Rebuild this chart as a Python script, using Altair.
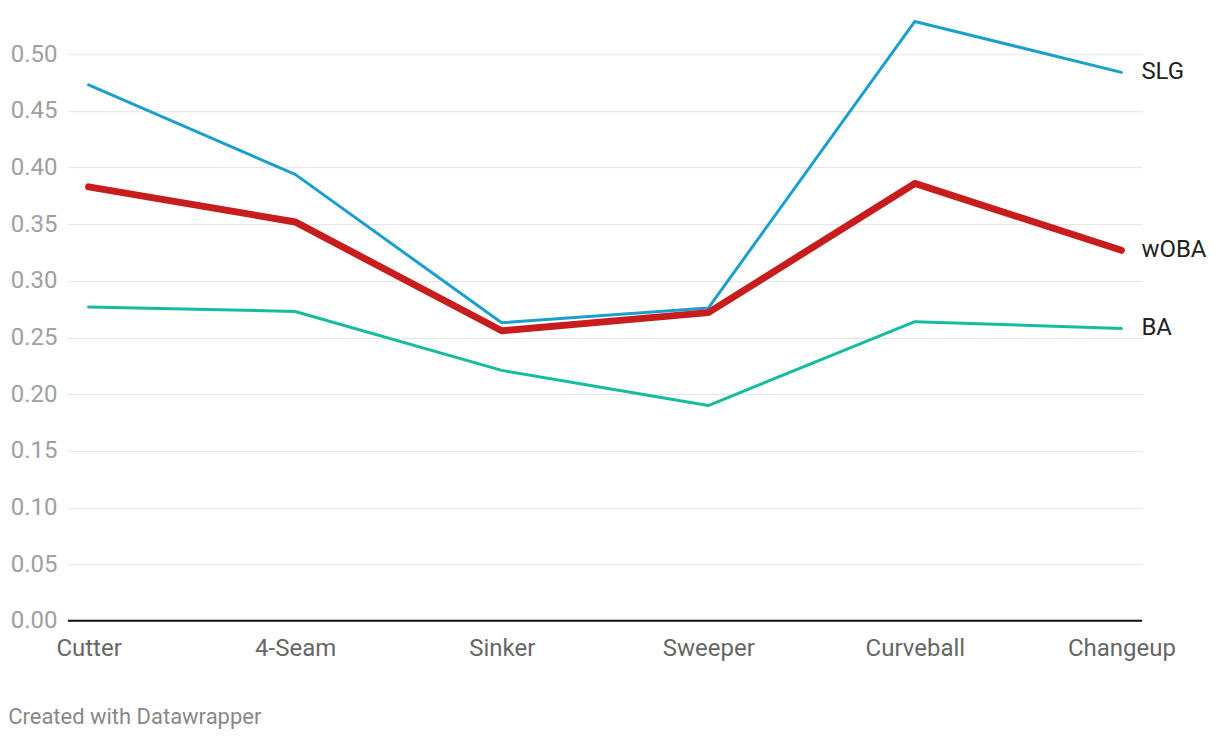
import altair as alt
import pandas as pd

categories = ["Cutter", "4-Seam", "Sinker", "Sweeper", "Curveball", "Changeup"]
slg = [0.473, 0.394, 0.263, 0.276, 0.529, 0.484]
woba = [0.383, 0.352, 0.256, 0.272, 0.386, 0.327]
ba = [0.277, 0.273, 0.221, 0.190, 0.264, 0.258]
series_names = ["SLG", "wOBA", "BA"]
series_colors = ["#1a9fce", "#c71e1d", "#15bca0"]
series_widths = [3, 7, 3]

rows = []
for name, vals in zip(series_names, [slg, woba, ba]):
    for i, (c, v) in enumerate(zip(categories, vals)):
        rows.append({"pitch": c, "value": v, "series": name, "idx": i})
df = pd.DataFrame(rows)
last = df[df["pitch"] == categories[-1]]

FONT = "Roboto"
xscale = alt.Scale(type="point", padding=0.1)
xenc = alt.X("pitch:N", sort=categories, scale=xscale,
             axis=alt.Axis(title=None, domain=False, ticks=False, labelFontSize=24,
                           labelColor="#666666", labelPadding=16, labelAngle=0, grid=False,
                           labelFont=FONT))
yscale = alt.Scale(domain=[0, 0.53], nice=False, zero=True)
yenc = alt.Y("value:Q", scale=yscale,
             axis=alt.Axis(title=None, domain=False, ticks=False, values=[i * 0.05 for i in range(11)],
                           format=".2f", labelFontSize=24, labelColor="#a0a0a0", labelPadding=11,
                           gridColor="#e3e3e3", gridWidth=1, labelFont=FONT))

colscale = alt.Scale(domain=series_names, range=series_colors)

grid_layer = alt.Chart(df).mark_point(opacity=0).encode(x=xenc, y=yenc)

base_rule = alt.Chart(pd.DataFrame({"value": [0]})).mark_rule(color="#111111", strokeWidth=2).encode(
    y=alt.Y("value:Q", scale=yscale))

lines = []
for name, w in zip(series_names, series_widths):
    lines.append(
        alt.Chart(df[df["series"] == name]).mark_line(strokeWidth=w, strokeCap="round", strokeJoin="round").encode(
            x=alt.X("pitch:N", sort=categories, scale=xscale),
            y=alt.Y("value:Q", scale=yscale),
            color=alt.Color("series:N", scale=colscale, legend=None),
            order=alt.Order("idx:Q"),
        )
    )

labels = alt.Chart(last).mark_text(align="left", baseline="middle", dx=20, fontSize=24,
                                   color="#222222", font=FONT).encode(
    x=alt.X("pitch:N", sort=categories, scale=xscale),
    y=alt.Y("value:Q", scale=yscale),
    text="series:N")

chart = alt.layer(grid_layer, base_rule, lines[2], lines[0], lines[1], labels).properties(
    width=1075, height=601,
    autosize=alt.AutoSizeParams(type="none"),
    padding={"left": 60, "top": 12, "right": 70, "bottom": 114},
    title=alt.TitleParams("Created with Datawrapper", orient="bottom", anchor="start", dx=-2,
                          offset=46, fontSize=22, font=FONT, color="#888888", fontWeight="normal"),
).configure(font=FONT).configure_view(stroke=None)

chart.save("out.html", embed_options={"renderer": "svg", "actions": False})
